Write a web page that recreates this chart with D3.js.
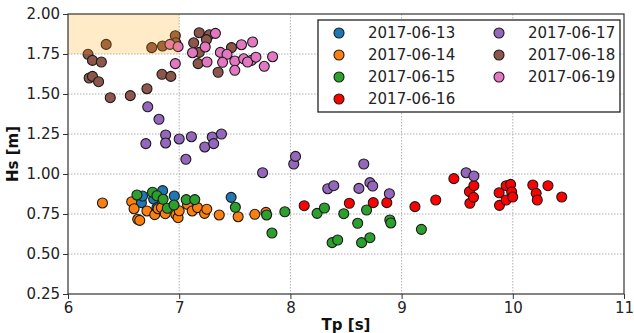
<!DOCTYPE html>
<html>
<head>
<meta charset="utf-8">
<script src="https://cdn.jsdelivr.net/npm/d3@7"></script>
<style>
  html, body { margin: 0; padding: 0; background: #fff; }
  svg { display: block; font-family: "DejaVu Sans", sans-serif; }
</style>
</head>
<body>
<svg id="chart" width="634" height="333"></svg>
<script>
// Peak period (Tp) vs significant wave height (Hs), one series per day
const dates = ["2017-06-13", "2017-06-14", "2017-06-15", "2017-06-16",
               "2017-06-17", "2017-06-18", "2017-06-19"];
const colors = ["#1f77b4", "#ff7f0e", "#2ca02c", "#ff0000",
                "#9467bd", "#8c564b", "#e377c2"];

const tp13 = [6.66, 6.67, 6.77, 6.80, 6.851, 6.956, 7.467];
const hs13 = [0.821, 0.8625, 0.844, 0.79, 0.896, 0.8625, 0.854];

const tp14 = [6.31, 6.573, 6.594, 6.627, 6.645, 6.71, 6.78, 6.81, 6.84, 6.875, 6.97, 6.99, 7.0,
              7.075, 7.117, 7.165, 7.228, 7.248, 7.36, 7.53, 7.68, 7.78];
const hs14 = [0.819, 0.827, 0.783, 0.717, 0.71, 0.769, 0.746, 0.783, 0.79, 0.752, 0.746, 0.727, 0.77,
              0.81, 0.769, 0.79, 0.754, 0.78, 0.744, 0.733, 0.748, 0.76];

const tp15 = [6.62, 6.76, 6.80, 6.855, 6.893, 6.953, 7.063, 7.14, 7.505, 7.786, 7.834, 7.95,
              8.24, 8.306, 8.375, 8.425, 8.48, 8.605, 8.64, 8.685, 8.715, 8.894, 8.903, 9.178];
const hs15 = [0.869, 0.886, 0.864, 0.842, 0.786, 0.806, 0.84, 0.84, 0.792, 0.744, 0.631, 0.764,
              0.754, 0.7875, 0.571, 0.5875, 0.752, 0.692, 0.571, 0.775, 0.602, 0.7125, 0.694, 0.654];

const tp16 = [8.124, 8.53, 8.745, 8.867, 9.12, 9.307, 9.47, 9.61, 9.614, 9.647, 9.65, 9.877,
              9.88, 9.94, 9.94, 9.98, 9.99, 9.999, 10.18, 10.21, 10.22, 10.316, 10.44];
const hs16 = [0.802, 0.817, 0.821, 0.821, 0.796, 0.8375, 0.971, 0.89, 0.817, 0.854, 0.927, 0.883,
              0.804, 0.927, 0.8375, 0.935, 0.8875, 0.856, 0.931, 0.879, 0.8375, 0.927, 0.856];

const tp17 = [6.70, 6.717, 6.818, 6.878, 6.878, 7.0, 7.06, 7.11, 7.23, 7.297, 7.31, 7.38,
              7.75, 8.03, 8.046, 8.336, 8.39, 8.616, 8.66, 8.715, 8.74, 8.89, 9.58, 9.65];
const hs17 = [1.19, 1.42, 1.342, 1.244, 1.194, 1.219, 1.092, 1.233, 1.169, 1.231, 1.19, 1.25,
              1.008, 1.0625, 1.11, 0.908, 0.927, 0.91, 1.0625, 0.946, 0.925, 0.877, 1.008, 0.9875];

const tp18 = [6.18, 6.22, 6.30, 6.19, 6.22, 6.275, 6.38, 6.56, 6.71, 6.845, 6.925, 6.343,
              6.753, 6.85, 6.965, 6.97, 7.18, 7.27, 7.245, 7.13, 7.18, 7.17, 7.47, 7.35];
const hs18 = [1.748, 1.71, 1.70, 1.60, 1.61, 1.577, 1.477, 1.49, 1.533, 1.623, 1.61, 1.81,
              1.79, 1.80, 1.864, 1.82, 1.883, 1.87, 1.84, 1.82, 1.76, 1.69, 1.79, 1.636];

const tp19 = [6.917, 6.99, 6.965, 7.326, 7.234, 7.12, 7.25, 7.37, 7.43, 7.39, 7.50, 7.50,
              7.56, 7.66, 7.58, 7.65, 7.615, 7.69, 7.765, 7.84];
const hs19 = [1.81, 1.796, 1.69, 1.879, 1.794, 1.758, 1.70, 1.76, 1.748, 1.698, 1.706, 1.648,
              1.808, 1.825, 1.72, 1.71, 1.70, 1.73, 1.673, 1.733];

const xTicks = [6, 7, 8, 9, 10, 11];
const yTicks = [0.25, 0.50, 0.75, 1.00, 1.25, 1.50, 1.75, 2.00];

// Highlighted region: Tp 6–7 s, Hs 1.75–2.00 m
const zoneTp = [6, 7];
const zoneHs = [1.75, 2.0];

const seriesTp = [tp13, tp14, tp15, tp16, tp17, tp18, tp19];
const seriesHs = [hs13, hs14, hs15, hs16, hs17, hs18, hs19];
const series = dates.map((d, i) => ({
  name: d,
  color: colors[i],
  points: seriesTp[i].map((t, j) => ({ tp: t, hs: seriesHs[i][j] }))
}));

const margin = { left: 68, top: 14, right: 10, bottom: 39 };
const W = 634, H = 333;
const iw = W - margin.left - margin.right;
const ih = H - margin.top - margin.bottom;

const svg = d3.select("#chart");
const g = svg.append("g").attr("transform", `translate(${margin.left},${margin.top})`);

const x = d3.scaleLinear().domain([6, 11]).range([0, iw]);
const y = d3.scaleLinear().domain([0.25, 2.0]).range([ih, 0]);

// grid
g.append("g").selectAll("line").data(xTicks.slice(1, -1)).join("line")
  .attr("x1", d => x(d)).attr("x2", d => x(d)).attr("y1", 0).attr("y2", ih)
  .attr("stroke", "#b0b0b0").attr("stroke-width", 1).attr("stroke-dasharray", "1.5,1.5");
g.append("g").selectAll("line").data(yTicks.slice(1, -1)).join("line")
  .attr("y1", d => y(d)).attr("y2", d => y(d)).attr("x1", 0).attr("x2", iw)
  .attr("stroke", "#b0b0b0").attr("stroke-width", 1).attr("stroke-dasharray", "1.5,1.5");

// points
series.forEach(s => {
  g.append("g").selectAll("circle").data(s.points).join("circle")
    .attr("cx", d => x(d.tp)).attr("cy", d => y(d.hs)).attr("r", 5)
    .attr("fill", s.color).attr("stroke", "#1a1a1a").attr("stroke-width", 1.1);
});

// translucent highlight drawn over the points
g.append("rect")
  .attr("x", x(zoneTp[0])).attr("y", y(zoneHs[1]))
  .attr("width", x(zoneTp[1]) - x(zoneTp[0]))
  .attr("height", y(zoneHs[0]) - y(zoneHs[1]))
  .attr("fill", "#ffa500").attr("fill-opacity", 0.22);

// axes
const xAxis = d3.axisBottom(x).tickValues(xTicks).tickFormat(d3.format("d")).tickSize(5).tickPadding(3);
const yAxis = d3.axisLeft(y).tickValues(yTicks).tickFormat(d3.format(".2f")).tickSize(5).tickPadding(3);

const gx = g.append("g").attr("transform", `translate(0,${ih})`).call(xAxis);
const gy = g.append("g").call(yAxis);
[gx, gy].forEach(a => {
  a.select(".domain").remove();
  a.selectAll(".tick line").attr("stroke", "#333").attr("stroke-width", 1);
  a.selectAll(".tick text").attr("fill", "#222").style("font-size", "15px")
    .style("font-family", "'DejaVu Sans', sans-serif");
});

// frame
g.append("rect").attr("x", 0).attr("y", 0).attr("width", iw).attr("height", ih)
  .attr("fill", "none").attr("stroke", "#333").attr("stroke-width", 1.2);

// axis titles
svg.append("text").attr("x", margin.left + iw / 2).attr("y", 330)
  .attr("text-anchor", "middle").style("font-size", "15px").style("font-weight", "bold")
  .attr("fill", "#111").text("Tp [s]");
svg.append("text")
  .attr("transform", `translate(18,${margin.top + ih / 2}) rotate(-90)`)
  .attr("text-anchor", "middle").style("font-size", "15px").style("font-weight", "bold")
  .attr("fill", "#111").text("Hs [m]");

// legend
const lg = svg.append("g");
lg.append("rect").attr("x", 318).attr("y", 20).attr("width", 302).attr("height", 92)
  .attr("fill", "#fff").attr("stroke", "#222").attr("stroke-width", 1.3);
series.forEach((s, i) => {
  const col = i < 4 ? 0 : 1;
  const row = i < 4 ? i : i - 4;
  const cx = col === 0 ? 339 : 499;
  const cy = 33 + row * 22;
  lg.append("circle").attr("cx", cx).attr("cy", cy).attr("r", 5)
    .attr("fill", s.color).attr("stroke", "#1a1a1a").attr("stroke-width", 1.1);
  lg.append("text").attr("x", cx + 29).attr("y", cy).attr("dy", "0.36em")
    .style("font-size", "15px").attr("fill", "#222").text(s.name);
});
</script>
</body>
</html>
